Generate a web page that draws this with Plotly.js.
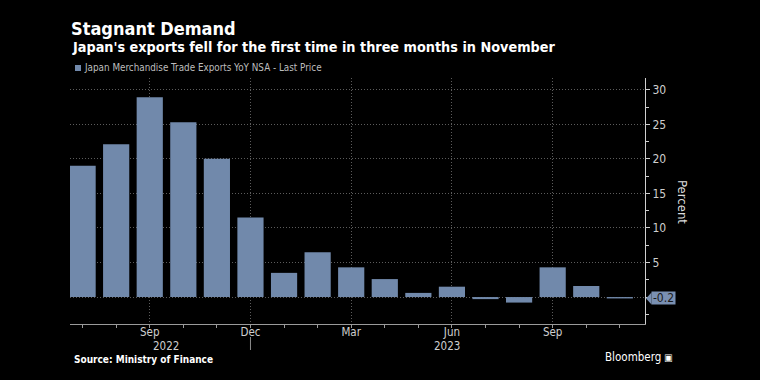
<!DOCTYPE html>
<html>
<head>
<meta charset="utf-8">
<script src="https://cdn.plot.ly/plotly-3.0.1.min.js"></script>
<style>
html,body{margin:0;padding:0;background:#000;}
#chart{width:760px;height:380px;}
</style>
</head>
<body>
<div id="chart"></div>
<script>
// ---- data ----
const months = ['2022-07','2022-08','2022-09','2022-10','2022-11','2022-12',
                '2023-01','2023-02','2023-03','2023-04','2023-05','2023-06',
                '2023-07','2023-08','2023-09','2023-10','2023-11'];
const exportsYoY = [19.0, 22.1, 28.9, 25.3, 20.0, 11.5, 3.5, 6.5, 4.3, 2.6, 0.6, 1.5, -0.3, -0.8, 4.3, 1.6, -0.2];
const tickMonths = ['2022-09','2022-12','2023-03','2023-06','2023-09'];
const tickLabels = ['Sep','Dec','Mar','Jun','Sep'];
const yearLabels = ['2022','2023'];
const yTicks = [0,5,10,15,20,25,30];
const seriesName = 'Japan Merchandise Trade Exports YoY NSA - Last Price';

// ---- styling ----
const FONT = '"DejaVu Sans Condensed", "Liberation Sans Narrow", sans-serif';
const BAR = '#7189ab';
const GRID = '#5c5c5c';
const L = 70, R = 645, T = 78, B = 324, W = 760, H = 380;
const pw = R - L, ph = B - T;
const px = v => (v - L) / pw;          // pixel -> paper x
const py = v => (B - v) / ph;          // pixel -> paper y

const idx = months.map((m, i) => i);
const tickIdx = tickMonths.map(m => months.indexOf(m));
const last = exportsYoY[exportsYoY.length - 1];

const trace = {
  type: 'bar',
  x: idx,
  y: exportsYoY,
  name: seriesName,
  marker: {color: BAR, line: {width: 0}},
  hoverinfo: 'skip'
};

const layout = {
  width: W, height: H,
  paper_bgcolor: '#000', plot_bgcolor: '#000',
  margin: {l: L, r: W - R, t: T, b: H - B, pad: 0},
  showlegend: false,
  bargap: 0.22,
  font: {family: FONT, color: '#cfcfcf', size: 12},
  title: {
    text: '<b>Stagnant Demand</b>',
    font: {family: FONT, size: 18, color: '#ffffff'},
    xref: 'container', yref: 'container',
    x: 71 / W, xanchor: 'left',
    y: 1 - 29 / H, yanchor: 'middle'
  },
  xaxis: {
    range: [-0.375, 16.75],
    tickmode: 'array', tickvals: tickIdx, ticktext: tickLabels,
    ticks: 'outside', ticklen: 3, tickcolor: '#9a9a9a', tickwidth: 1,
    ticklabelstandoff: -6,
    showline: true, linecolor: '#9a9a9a', linewidth: 1,
    showgrid: true, gridcolor: GRID, griddash: '1px,2px', gridwidth: 1,
    zeroline: false,
    tickfont: {family: FONT, size: 11.5, color: '#cfcfcf'},
    minor: {tickmode: 'linear', tick0: 0, dtick: 1, ticks: 'outside', ticklen: 3, tickcolor: '#9a9a9a', showgrid: false},
    fixedrange: true
  },
  yaxis: {
    side: 'right',
    range: [-3.9, 31.7],
    tickmode: 'array', tickvals: yTicks,
    ticktext: yTicks.map(v => v === 0 ? '' : String(v)),
    ticks: 'outside', ticklen: 4, tickcolor: '#cfcfcf', tickwidth: 1,
    showline: true, linecolor: '#cfcfcf', linewidth: 1,
    showgrid: true, gridcolor: GRID, griddash: '1px,2px', gridwidth: 1,
    zeroline: false,
    tickfont: {family: FONT, size: 12, color: '#cfcfcf'},
    minor: {tickmode: 'linear', tick0: 0, dtick: 2.5, ticks: 'outside', ticklen: 3, tickcolor: '#cfcfcf', showgrid: false},
    fixedrange: true
  },
  shapes: [
    // legend swatch
    {type: 'rect', xref: 'paper', yref: 'paper',
     x0: px(75), x1: px(81), y0: py(71), y1: py(65),
     fillcolor: BAR, line: {width: 0}},
    // year separator under Dec
    {type: 'line', xref: 'x', yref: 'paper',
     x0: tickIdx[1], x1: tickIdx[1], y0: py(337), y1: py(350),
     line: {color: '#8a8a8a', width: 1}},
    // callout pointer
    {type: 'path', xref: 'paper', yref: 'y',
     path: `M ${px(646)} ${last} L ${px(651.5)} ${last + 0.87} L ${px(651.5)} ${last - 0.87} Z`,
     fillcolor: '#7a90b2', line: {width: 0}}
  ],
  annotations: [
    {text: "<b>Japan's exports fell for the first time in three months in November</b>",
     xref: 'paper', yref: 'paper', x: px(70), y: py(47), xanchor: 'left', yanchor: 'middle',
     showarrow: false, font: {family: FONT, size: 14.3, color: '#ffffff'}},
    {text: seriesName,
     xref: 'paper', yref: 'paper', x: px(82), y: py(68), xanchor: 'left', yanchor: 'middle',
     showarrow: false, font: {family: FONT, size: 9.8, color: '#bdbdbd'}},
    {text: yearLabels[0], xref: 'x', yref: 'paper', x: 2.48, y: py(346),
     xanchor: 'center', yanchor: 'middle', showarrow: false,
     font: {family: FONT, size: 11.5, color: '#cfcfcf'}},
    {text: yearLabels[1], xref: 'x', yref: 'paper', x: 10.85, y: py(346),
     xanchor: 'center', yanchor: 'middle', showarrow: false,
     font: {family: FONT, size: 11.5, color: '#cfcfcf'}},
    {text: 'Percent', xref: 'paper', yref: 'paper', x: px(683), y: py(202),
     xanchor: 'center', yanchor: 'middle', textangle: 90, showarrow: false,
     font: {family: FONT, size: 13, color: '#dddddd'}},
    {text: String(last), xref: 'paper', yref: 'y', x: px(651), y: last,
     xanchor: 'left', yanchor: 'middle', showarrow: false,
     bgcolor: '#7a90b2', borderpad: 0, width: 23, height: 12,
     font: {family: FONT, size: 12, color: '#1a1a1a'}},
    {text: '<b>Source: Ministry of Finance</b>',
     xref: 'paper', yref: 'paper', x: px(72), y: py(359), xanchor: 'left', yanchor: 'middle',
     showarrow: false, font: {family: FONT, size: 10, color: '#ffffff'}},
    {text: 'Bloomberg',
     xref: 'paper', yref: 'paper', x: px(663), y: py(357), xanchor: 'right', yanchor: 'middle',
     showarrow: false, font: {family: FONT, size: 11.5, color: '#ffffff'}},
    {text: '<b>▣</b>',
     xref: 'paper', yref: 'paper', x: px(669), y: py(357), xanchor: 'center', yanchor: 'middle',
     showarrow: false, font: {family: FONT, size: 10, color: '#ffffff'}}
  ]
};

Plotly.newPlot('chart', [trace], layout, {displayModeBar: false, staticPlot: true});
</script>
</body>
</html>
